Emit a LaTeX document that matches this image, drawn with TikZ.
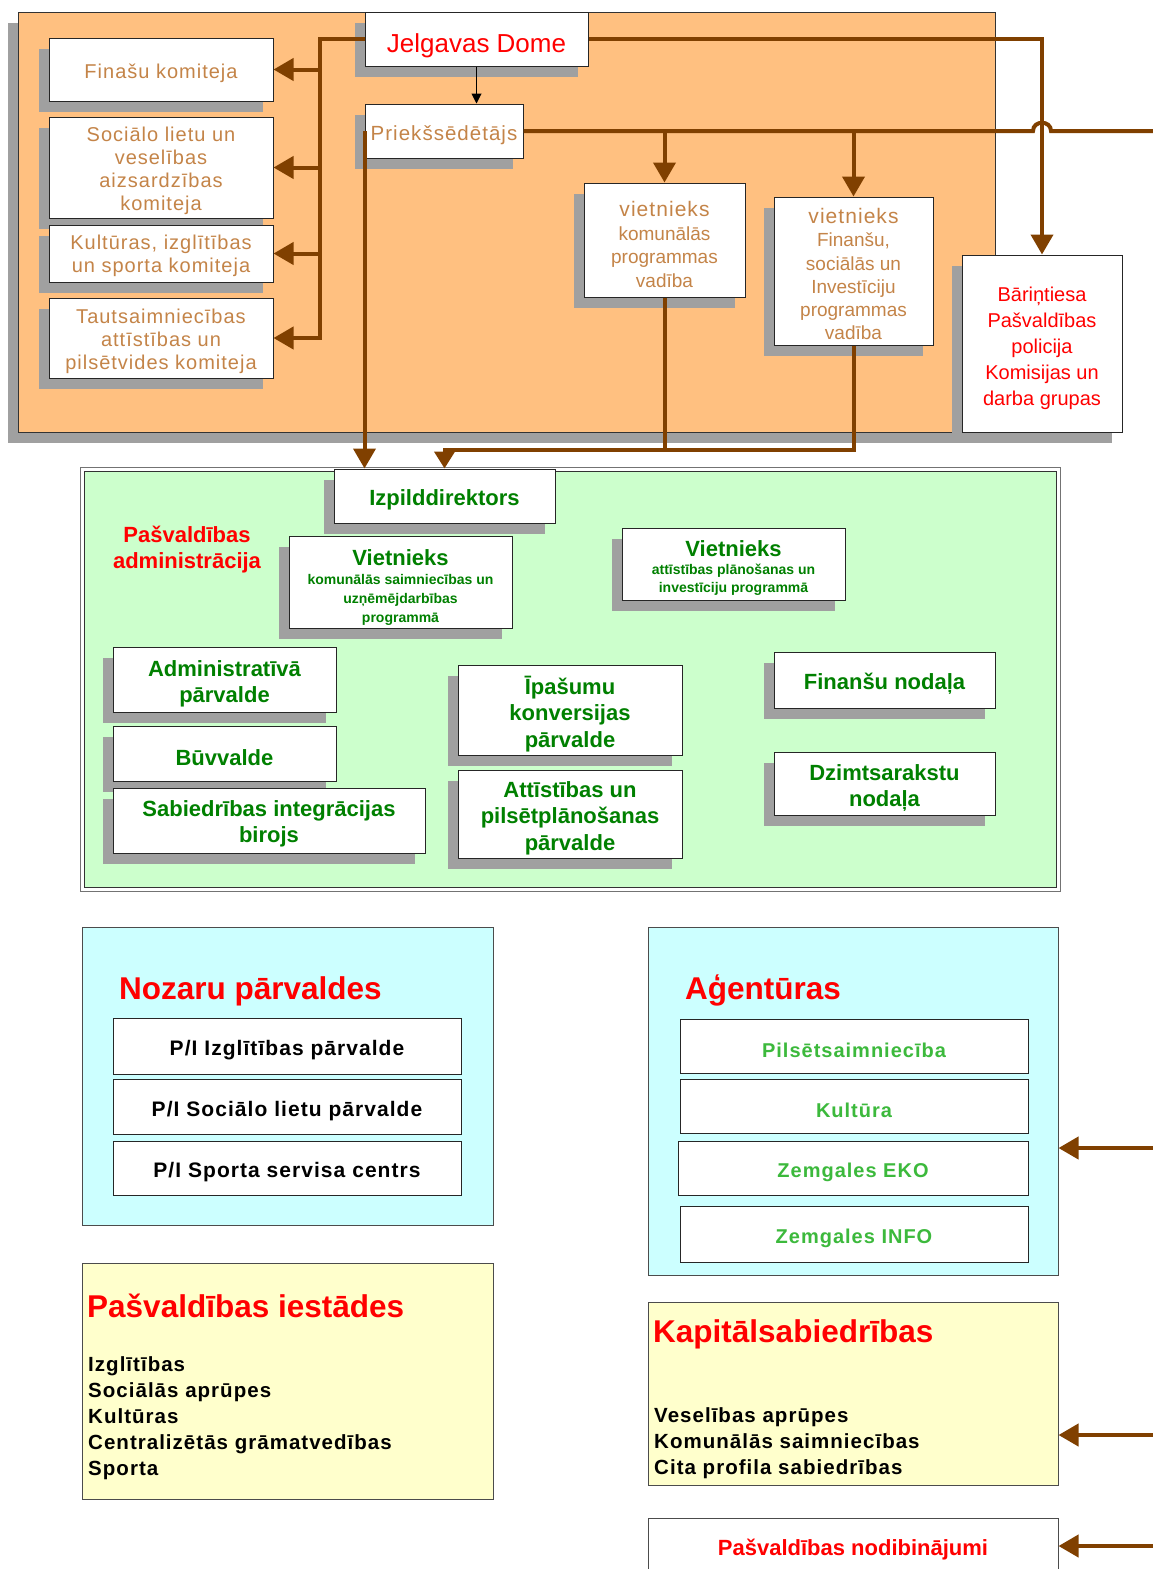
\documentclass[tikz,border=0pt]{standalone}
\usepackage{fontspec}
\setmainfont{Liberation Sans}
\newfontfamily\lsp[LetterSpace=5]{Liberation Sans}
\usetikzlibrary{arrows.meta,shadows}
\definecolor{cBrown}{RGB}{128,64,0}
\definecolor{cOrange}{RGB}{255,192,128}
\definecolor{cGreenBg}{RGB}{204,255,204}
\definecolor{cCyan}{RGB}{204,255,255}
\definecolor{cYellow}{RGB}{255,255,204}
\definecolor{cShadow}{RGB}{160,160,160}
\definecolor{cTan}{RGB}{196,132,72}
\definecolor{cGreen}{RGB}{0,128,0}
\definecolor{cLGreen}{RGB}{60,185,60}
\definecolor{cRed}{RGB}{255,0,0}
\newcommand{\fsz}[2]{\fontsize{#1}{#2}\selectfont}
\newcommand{\tup}[1]{\rule{0pt}{\dimexpr0.75em+#1\relax}}
\begin{document}
\begin{tikzpicture}[x=1pt,y=-1pt,
  tshift/.style={execute at begin node={\rule{0pt}{\dimexpr0.75em+#1\relax}}},
  box/.style={draw=black!85, line width=1pt, fill=white, inner sep=0pt, align=center, rectangle, tshift=8pt},
  sbox/.style={box, drop shadow={shadow xshift=-10pt, shadow yshift=-11pt, fill=cShadow, opacity=1}},
  com/.style={font=\lsp\fsz{20}{23}, text=cTan},
  gbox/.style={sbox, font=\bfseries\fsz{22}{26.5}, text=cGreen},
  pbox/.style={box, font=\lsp\bfseries\fsz{21}{24}},
  panel/.style={draw=black!70, line width=1pt, inner sep=0pt, rectangle},
  ttl/.style={font=\bfseries\fsz{31.5}{34}, text=cRed, inner sep=0pt, anchor=base west},
  lst/.style={font=\lsp\bfseries\fsz{20.5}{25.9}, text=black, inner sep=0pt, align=left, anchor=base west},
  bline/.style={draw=cBrown, line width=4pt},
  barrow/.style={bline, -{Triangle[length=20pt,width=22pt]}},
  sarrow/.style={bline, -{Triangle[length=17pt,width=20pt]}},
  tarrow/.style={draw=black, line width=1pt, -{Triangle[length=10pt,width=10pt]}}
]
\useasboundingbox (0,0) rectangle (1153,1569);

% ---------- top panel ----------
\fill[cShadow] (8,23) rectangle (985,443);
\draw[fill=cOrange, draw=black!80, line width=1pt] (18,12) rectangle (995,432);

\node[sbox, com, minimum width=224pt, minimum height=63pt] (fk) at (161,69.5) {Finašu komiteja};
\node[sbox, com, minimum width=224pt, minimum height=101pt] (sk) at (161,167.5) {\tup{6pt}Sociālo lietu un\\veselības\\aizsardzības\\komiteja};
\node[sbox, com, minimum width=224pt, minimum height=57pt] (kk) at (161,253.5) {\tup{4pt}Kultūras, izglītības\\un sporta komiteja};
\node[sbox, com, minimum width=224pt, minimum height=80pt] (tk) at (161,338) {\tup{6pt}Tautsaimniecības\\attīstības un\\pilsētvides komiteja};

\node[sbox, tshift=13pt, minimum width=223pt, minimum height=54pt, font=\fsz{26}{28}, text=cRed] (jd) at (476.5,39) {Jelgavas Dome};
\node[sbox, minimum width=158pt, minimum height=54pt, font=\lsp\fsz{20.5}{23}, text=cTan] (pr) at (444,131) {Priekšsēdētājs};

\node[sbox, minimum width=161pt, minimum height=114pt, font=\fsz{19}{23.5}, text=cTan] (v1) at (664.5,240) {{\lsp\fsz{21}{23.5}\tup{8pt}vietnieks}\\komunālās\\programmas\\vadība};
\node[sbox, minimum width=159pt, minimum height=148pt, font=\fsz{19}{23.2}, text=cTan] (v2) at (853.5,271) {{\lsp\fsz{21}{23.2}\tup{6pt}vietnieks}\\Finanšu,\\sociālās un\\Investīciju\\programmas\\vadība};
\node[sbox, minimum width=160pt, minimum height=177pt, font=\fsz{20}{26}, text=cRed] (bar) at (1042,343.5) {\tup{10pt}Bāriņtiesa\\Pašvaldības\\policija\\Komisijas un\\darba grupas};

% ---------- administration panel ----------
\draw[draw=black!55, line width=1pt, fill=white] (80,467) rectangle (1060,891);
\draw[draw=black!80, line width=1pt, fill=cGreenBg] (84,471) rectangle (1056,887);

\node[gbox, minimum width=221pt, minimum height=54pt] (izp) at (444.5,496) {Izpilddirektors};
\node[font=\bfseries\fsz{22}{26}, text=cRed, align=center, inner sep=0pt] (padm) at (187,550) {Pašvaldības\\administrācija};
\node[gbox, font=\bfseries\fsz{14}{19}, minimum width=223pt, minimum height=92pt] (va) at (400.5,582) {{\fsz{22}{21}\tup{10pt}Vietnieks}\\komunālās saimniecības un\\uzņēmējdarbības\\programmā};
\node[gbox, font=\bfseries\fsz{14}{18}, minimum width=223pt, minimum height=72pt] (vb) at (733.5,564) {{\fsz{22}{22}\tup{8pt}Vietnieks}\\attīstības plānošanas un\\investīciju programmā};
\node[gbox, minimum width=223pt, minimum height=65pt] (adm) at (224.5,679.5) {\tup{8pt}Administratīvā\\pārvalde};
\node[gbox, minimum width=223pt, minimum height=55pt] (buv) at (224.5,753.5) {Būvvalde};
\node[gbox, minimum width=312pt, minimum height=65pt] (sab) at (269,820.5) {\tup{6pt}Sabiedrības integrācijas\\birojs};
\node[gbox, minimum width=224pt, minimum height=90pt] (ipa) at (570,710) {\tup{10pt}Īpašumu\\konversijas\\pārvalde};
\node[gbox, minimum width=224pt, minimum height=88pt] (att) at (570,814) {\tup{8pt}Attīstības un\\pilsētplānošanas\\pārvalde};
\node[gbox, minimum width=221pt, minimum height=56pt] (fnn) at (884.5,680) {Finanšu nodaļa};
\node[gbox, minimum width=221pt, minimum height=63pt] (dzn) at (884.5,783.5) {\tup{8pt}Dzimtsarakstu\\nodaļa};

% ---------- top connectors ----------
\coordinate (bt) at (320,39);
\draw[barrow] (jd.west) -- (bt) -- (bt |- tk.east) -- (tk.east);
\draw[barrow] (bt |- fk.east) -- (fk.east);
\draw[barrow] (bt |- sk.east) -- (sk.east);
\draw[barrow] (bt |- kk.east) -- (kk.east);
\draw[tarrow] (jd.south) -- (jd.south |- pr.north);
\coordinate (rend) at (1153,131);
\draw[bline] (pr.east) -- (1033,131) .. controls (1033,120) and (1051,120) .. (1051,131) -- (rend);
\draw[barrow] (v1.north |- pr.east) -- (v1.north);
\draw[barrow] (v2.north |- pr.east) -- (v2.north);
\draw[barrow] (jd.east) -| (bar.north);
\draw[barrow] (pr.west) -- (pr.west |- izp.north);
\coordinate (j1) at (664.5,450);
\draw[sarrow] (v1.south) -- (j1) -| (izp.north);
\draw[bline] (v2.south) |- (j1);

% ---------- bottom panels ----------
\node[panel, fill=cCyan, minimum width=411pt, minimum height=298pt] (nzp) at (287.5,1076) {};
\node[ttl] (nzt) at (119,999) {Nozaru pārvaldes};
\node[pbox, minimum width=348pt, minimum height=56pt] (n1) at (287,1046) {P/I Izglītības pārvalde};
\node[pbox, minimum width=348pt, minimum height=55pt] (n2) at (287,1106.5) {P/I Sociālo lietu pārvalde};
\node[pbox, minimum width=348pt, minimum height=54pt] (n3) at (287,1168) {P/I Sporta servisa centrs};

\node[panel, fill=cYellow, minimum width=411pt, minimum height=236pt] (isp) at (287.5,1381) {};
\node[ttl] (ist) at (87,1317) {Pašvaldības iestādes};
\node[lst] (isl) at (88,1475) {Izglītības\\Sociālās aprūpes\\Kultūras\\Centralizētās grāmatvedības\\Sporta};

\node[panel, fill=cCyan, minimum width=410pt, minimum height=348pt] (agp) at (853,1101) {};
\node[ttl] (agt) at (685,999) {Aģentūras};
\node[pbox, tshift=5pt, text=cLGreen, font=\lsp\bfseries\fsz{20}{24}, minimum width=348pt, minimum height=54pt] (a1) at (854,1046) {Pilsētsaimniecība};
\node[pbox, tshift=5pt, text=cLGreen, font=\lsp\bfseries\fsz{20}{24}, minimum width=348pt, minimum height=54pt] (a2) at (854,1106) {Kultūra};
\node[pbox, tshift=5pt, text=cLGreen, font=\lsp\bfseries\fsz{20}{24}, minimum width=350pt, minimum height=54pt] (a3) at (853,1168) {Zemgales EKO};
\node[pbox, tshift=8pt, text=cLGreen, font=\lsp\bfseries\fsz{20}{24}, minimum width=348pt, minimum height=56pt] (a4) at (854,1234) {Zemgales INFO};

\node[panel, fill=cYellow, minimum width=410pt, minimum height=183pt] (kap) at (853,1393.5) {};
\node[ttl] (kat) at (653,1342) {Kapitālsabiedrības};
\node[lst] (kal) at (654,1474) {Veselības aprūpes\\Komunālās saimniecības\\Cita profila sabiedrības};

\node[panel, tshift=8pt, align=center, fill=white, minimum width=410pt, minimum height=56pt, font=\bfseries\fsz{22}{24}, text=cRed] (nod) at (853,1546) {Pašvaldības nodibinājumi};

\coordinate (r1) at (1153,1148);
\coordinate (r2) at (1153,1435);
\coordinate (r3) at (1153,1546);
\draw[barrow] (r1) -- (r1 -| agp.east);
\draw[barrow] (r2) -- (r2 -| kap.east);
\draw[barrow] (r3) -- (r3 -| nod.east);
\end{tikzpicture}
\end{document}
